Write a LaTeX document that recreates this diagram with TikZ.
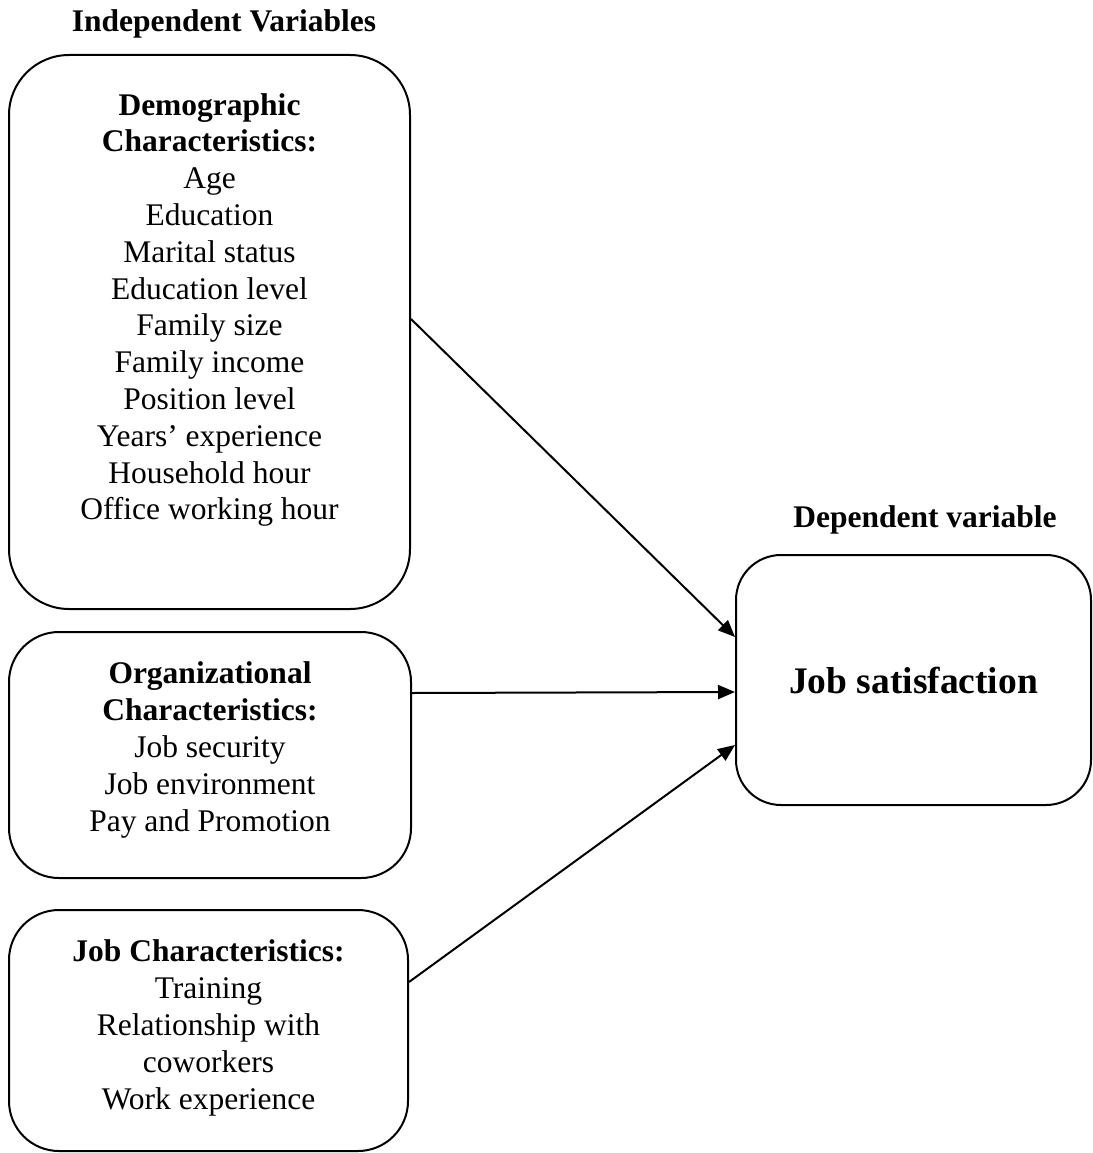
\documentclass[tikz,border=0pt]{standalone}
\usepackage{fontspec}
\setmainfont{Liberation Serif}
\usetikzlibrary{arrows.meta}
\begin{document}
\begin{tikzpicture}[x=1pt, y=-1pt, line width=2pt,
    every node/.style={align=center, font=\fontsize{31.5}{36.8}\selectfont},
    varbox/.style={draw, rounded corners=#1, inner sep=0pt},
    >={Triangle[length=17pt, width=14pt]}]
    \useasboundingbox (0,0) rectangle (1092,1153);

    \node[anchor=base] (indep) at (224,32) {\textbf{Independent Variables}};
    \node[anchor=base] (dep) at (925,527) {\textbf{Dependent variable}};

    \node[varbox=60pt, minimum width=401pt, minimum height=554pt, text depth=51pt] (demo) at (209.5,332)
        {\textbf{Demographic}\\ \textbf{Characteristics:}\\ Age\\ Education\\ Marital status\\
         Education level\\ Family size\\ Family income\\ Position level\\ Years’ experience\\
         Household hour\\ Office working hour};
    \node[varbox=50pt, minimum width=402pt, minimum height=246pt, text depth=17pt] (org) at (210,755)
        {\textbf{Organizational}\\ \textbf{Characteristics:}\\ Job security\\ Job environment\\ Pay and Promotion};
    \node[varbox=50pt, minimum width=399pt, minimum height=241pt, text depth=12pt] (jobc) at (208.5,1030.5)
        {\textbf{Job Characteristics:}\\ Training\\ Relationship with\\ coworkers\\ Work experience};
    \node[varbox=45pt, minimum width=355pt, minimum height=250pt,
          font=\bfseries\fontsize{37.5}{43}\selectfont] (sat) at (913.5,680) {Job satisfaction};

    \draw[->] ([yshift=13pt]demo.east) -- ([yshift=43pt]sat.west);
    \draw[->] ([yshift=62pt]org.east) -- ([yshift=-12pt]sat.west);
    \draw[->] ([yshift=48.5pt]jobc.east) -- ([yshift=-65pt]sat.west);
\end{tikzpicture}
\end{document}
